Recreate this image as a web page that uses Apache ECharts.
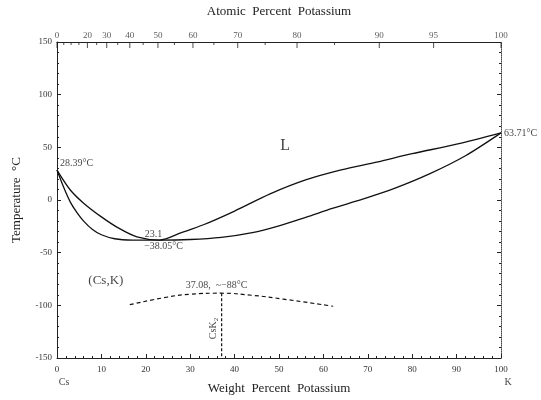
<!DOCTYPE html>
<html>
<head>
<meta charset="utf-8">
<script src="https://cdn.jsdelivr.net/npm/echarts@6/dist/echarts.min.js"></script>
<style>
  html, body { margin: 0; padding: 0; background: #fff; }
  #main { width: 541px; height: 400px; }
</style>
</head>
<body>
<div id="main"></div>
<script>
// Cs-K phase diagram, weight percent potassium vs temperature
var liqX = [0, 3, 6, 10, 14, 18, 23.1, 28, 33, 40, 48, 56, 64, 72, 80, 90, 100];
var liqT = [28.39, 9.5, -3, -16, -27, -35, -38.05, -31, -23.5, -10.5, 5.8, 19, 28.5, 36, 44, 53, 63.71];
var solX = [0, 1.5, 3, 4.5, 6, 8, 10, 13, 17, 23.1, 30, 37, 44, 50, 56, 62, 69, 76, 84, 92, 100];
var solT = [28.39, 12, -2, -12, -20, -28, -33, -36.8, -38, -38.05, -37.5, -35.5, -31, -24.5, -16.5, -8, 1, 11, 25, 42, 63.71];
var domeX = [16.4, 24.7, 30, 37.08, 44, 51, 62.2];
var domeT = [-99.4, -92.3, -89.5, -88.5, -90.5, -94.1, -100.9];
var csk2X = [37.08, 37.08];
var csk2T = [-88.5, -150];
var atTicks = [0, 20, 30, 40, 50, 60, 70, 80, 90, 95, 100];
var atMinor = [5, 10, 15, 25, 35, 45, 55, 65, 75, 85];

var serif = '"Liberation Serif", "DejaVu Serif", serif';

// atomic % K -> weight % K
function atToWt(a) {
  var k = a * 39.098, cs = (100 - a) * 132.905;
  return 100 * k / (k + cs);
}

function pairs(xs, ys) {
  return xs.map(function (x, i) { return [x, ys[i]]; });
}

var topTickData = atTicks.map(function (a) {
  return { value: [atToWt(a), 150], name: String(a) };
});
var topMinorData = atMinor.map(function (a) { return [atToWt(a), 150]; });

var notes = [
  { value: [0, 28.39], text: '28.39°C', pos: 'right', off: [0, -7] },
  { value: [23.1, -38.05], text: '23.1', pos: 'top', off: [-6, 2] },
  { value: [23.1, -38.05], text: '−38.05°C', pos: 'bottom', off: [4, -2] },
  { value: [100, 63.71], text: '63.71°C', pos: 'right', off: [0, 0] },
  { value: [37.08, -88.5], text: '37.08,  ~−88°C', pos: 'top', off: [-5, 0] },
  { value: [0, -150], text: 'Cs', pos: 'bottom', off: [7, 16] },
  { value: [100, -150], text: 'K', pos: 'bottom', off: [7, 16] }
];

var chart = echarts.init(document.getElementById('main'));
var axisStyle = { color: '#222', width: 1 };

var option = {
  backgroundColor: '#fff',
  animation: false,
  grid: { left: 57, right: 40, top: 32, bottom: 41 },
  xAxis: [{
    type: 'value', min: 0, max: 100, interval: 10, position: 'bottom',
    name: 'Weight  Percent  Potassium', nameLocation: 'middle', nameGap: 24,
    nameTextStyle: { fontFamily: serif, fontSize: 13, color: '#222' },
    axisLine: { onZero: false, lineStyle: axisStyle },
    axisTick: { inside: true, length: 4, lineStyle: axisStyle },
    minorTick: { show: true, splitNumber: 5, length: 2, lineStyle: axisStyle },
    axisLabel: { fontFamily: serif, fontSize: 9, color: '#333', margin: 7 },
    splitLine: { show: false }
  }, {
    type: 'value', min: 0, max: 100, position: 'top',
    name: 'Atomic  Percent  Potassium', nameLocation: 'middle', nameGap: 24,
    nameTextStyle: { fontFamily: serif, fontSize: 13, color: '#222' },
    axisLine: { show: true, onZero: false, lineStyle: axisStyle },
    axisTick: { show: false },
    axisLabel: { show: false },
    splitLine: { show: false }
  }],
  yAxis: [{
    type: 'value', min: -150, max: 150, interval: 50,
    name: 'Temperature  °C', nameLocation: 'middle', nameGap: 34,
    nameTextStyle: { fontFamily: serif, fontSize: 13, color: '#222' },
    axisLine: { show: true, onZero: false, lineStyle: axisStyle },
    axisTick: { inside: true, length: 4, lineStyle: axisStyle },
    minorTick: { show: true, splitNumber: 5, length: 2, lineStyle: axisStyle },
    axisLabel: { fontFamily: serif, fontSize: 9, color: '#333', margin: 5 },
    splitLine: { show: false }
  }, {
    type: 'value', min: -150, max: 150, interval: 50, position: 'right',
    axisLine: { show: true, onZero: false, lineStyle: { color: '#444', width: 1, type: 'dotted' } },
    axisTick: { inside: true, length: 4, lineStyle: axisStyle },
    minorTick: { show: true, splitNumber: 5, length: 2, lineStyle: axisStyle },
    axisLabel: { show: false },
    splitLine: { show: false }
  }],
  series: [{
    name: 'liquidus', type: 'line', smooth: 0.3,
    symbol: 'none', data: pairs(liqX, liqT),
    lineStyle: { color: '#111', width: 1.3 }
  }, {
    name: 'solidus', type: 'line', smooth: 0.3,
    symbol: 'none', data: pairs(solX, solT),
    lineStyle: { color: '#111', width: 1.3 }
  }, {
    name: 'dome', type: 'line', smooth: 0.5, symbol: 'none',
    data: pairs(domeX, domeT),
    lineStyle: { color: '#111', width: 1.2, type: [4, 3] }
  }, {
    name: 'CsK2', type: 'line', symbol: 'none',
    data: pairs(csk2X, csk2T),
    lineStyle: { color: '#111', width: 1.2, type: [3, 2] }
  }, {
    name: 'top ticks', type: 'scatter', symbol: 'rect', symbolSize: [1, 6],
    symbolOffset: [0, 3], itemStyle: { color: '#222' },
    data: topTickData,
    label: {
      show: true, position: 'top', distance: 2, formatter: '{b}',
      fontFamily: serif, fontSize: 9, color: '#333'
    }
  }, {
    name: 'top minor', type: 'scatter', symbol: 'rect', symbolSize: [1, 3],
    symbolOffset: [0, 1.5], itemStyle: { color: '#222' },
    data: topMinorData
  }, {
    name: 'notes', type: 'scatter', symbolSize: 0,
    data: notes.map(function (n) {
      return {
        value: n.value,
        label: { show: true, position: n.pos, offset: n.off, formatter: n.text }
      };
    }),
    label: { fontFamily: serif, fontSize: 10, color: '#111', distance: 3 }
  }, {
    name: 'regions', type: 'scatter', symbolSize: 0,
    data: [
      { value: [51.4, 51.5], label: { formatter: 'L', fontSize: 16 } },
      { value: [11, -76.5], label: { formatter: '(Cs,K)', fontSize: 13 } },
      { value: [37.08, -122], label: { formatter: 'CsK{s|2}', rotate: 90, offset: [0, -8] } }
    ],
    label: {
      show: true, position: 'inside', fontFamily: serif, color: '#111', fontSize: 10,
      rich: { s: { fontSize: 7, fontFamily: serif, color: '#111', verticalAlign: 'bottom', padding: [6, 0, 0, 0] } }
    }
  }]
};

chart.setOption(option);
</script>
</body>
</html>
